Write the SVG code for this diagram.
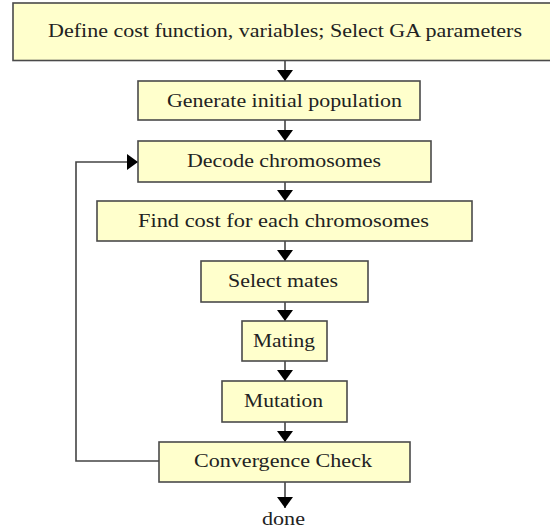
<svg xmlns="http://www.w3.org/2000/svg" width="550" height="532" viewBox="0 0 550 532">
<style>
.box{fill:#FFFFCC;stroke:#4a4a4a;stroke-width:1.6}
.t{font-family:"Liberation Serif","Times New Roman",serif;font-size:18.5px;fill:#222;text-anchor:middle}
.c{fill:none;stroke:#444;stroke-width:1.6}
</style>
<defs>
<marker id="ah" viewBox="0 0 11 16" refX="11" refY="8" markerWidth="11" markerHeight="16" markerUnits="userSpaceOnUse" orient="auto">
<path d="M0,0 L11,8 L0,16 Z" fill="#000"/>
</marker>
</defs>
<rect width="550" height="532" fill="#fff"/>
<g id="connectors">
<line class="c" x1="285" y1="60.5" x2="285" y2="81" marker-end="url(#ah)"/>
<line class="c" x1="285" y1="120" x2="285" y2="141" marker-end="url(#ah)"/>
<line class="c" x1="285" y1="182" x2="285" y2="201" marker-end="url(#ah)"/>
<line class="c" x1="285" y1="241" x2="285" y2="261" marker-end="url(#ah)"/>
<line class="c" x1="285" y1="302" x2="285" y2="321" marker-end="url(#ah)"/>
<line class="c" x1="285" y1="361" x2="285" y2="381" marker-end="url(#ah)"/>
<line class="c" x1="285" y1="422" x2="285" y2="442" marker-end="url(#ah)"/>
<line class="c" x1="285" y1="482" x2="285" y2="508" marker-end="url(#ah)"/>
<polyline class="c" points="159,461 76,461 76,162 138,162" marker-end="url(#ah)"/>
</g>
<g id="n1"><rect class="box" x="13" y="3" width="560" height="57.5"/><text class="t" x="285" y="37" textLength="474" lengthAdjust="spacingAndGlyphs">Define cost function, variables; Select GA parameters</text></g>
<g id="n2"><rect class="box" x="138" y="81" width="282" height="39"/><text class="t" x="284.5" y="107" textLength="235" lengthAdjust="spacingAndGlyphs">Generate initial population</text></g>
<g id="n3"><rect class="box" x="138" y="141" width="293" height="41"/><text class="t" x="284" y="167" textLength="194" lengthAdjust="spacingAndGlyphs">Decode chromosomes</text></g>
<g id="n4"><rect class="box" x="97" y="201" width="375" height="40"/><text class="t" x="283.5" y="227" textLength="291" lengthAdjust="spacingAndGlyphs">Find cost for each  chromosomes</text></g>
<g id="n5"><rect class="box" x="201" y="261" width="167" height="41"/><text class="t" x="283" y="287" textLength="110" lengthAdjust="spacingAndGlyphs">Select mates</text></g>
<g id="n6"><rect class="box" x="242" y="321" width="85" height="40"/><text class="t" x="284" y="347" textLength="62" lengthAdjust="spacingAndGlyphs">Mating</text></g>
<g id="n7"><rect class="box" x="222" y="381" width="125" height="41"/><text class="t" x="283.5" y="407" textLength="79" lengthAdjust="spacingAndGlyphs">Mutation</text></g>
<g id="n8"><rect class="box" x="159" y="442" width="251" height="40"/><text class="t" x="283" y="467" textLength="178" lengthAdjust="spacingAndGlyphs">Convergence Check</text></g>
<g id="n9"><text class="t" x="283.5" y="525" textLength="43" lengthAdjust="spacingAndGlyphs">done</text></g>
</svg>
